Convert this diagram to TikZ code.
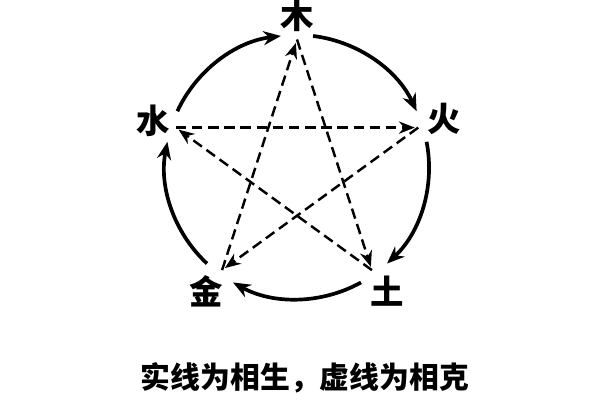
\documentclass[tikz,border=0pt]{standalone}
\usepackage{fontspec}
\newfontfamily\cjk{Noto Sans CJK SC}
\usepackage{tikz}
\tikzset{>=stealth}
\usetikzlibrary{arrows.meta}

\begin{document}
\begin{tikzpicture}[
    elem/.style={font=\cjk\bfseries\fontsize{19}{19}\selectfont, inner sep=0pt},
    sheng/.style={line width=2.1pt, -{Stealth[length=10pt,width=8pt]}},
    ke/.style={line width=1.4pt, dash pattern=on 6pt off 3.2pt, -{Stealth[length=9pt,width=7pt]}, shorten >=2pt}
]
    \useasboundingbox (-5.94,-4.66) rectangle (6.06,3.34);
    % the five elements
    \node[elem] (mu) at (90:3.02) {木};
    \node[elem] (huo) at (18:3.1) {火};
    \node[elem] (tu) at (-54:3.08) {土};
    \node[elem] (jin) at (-126:3.08) {金};
    \node[elem] (shui) at (162:3.02) {水};
    % generating cycle
    \foreach \name/\ang in {mu/90, huo/18, tu/-54, jin/-126, shui/162}{
        \coordinate (\name-p) at (\ang:2.55);
        \coordinate (\name-s) at ({\ang-7}:2.64);
        \draw[sheng] (\name-s) arc[start angle=\ang-7, end angle=\ang-65, radius=2.64];
    }
    % overcoming cycle
    \draw[ke] (mu-p) -- (tu-p);
    \draw[ke] (tu-p) -- (shui-p);
    \draw[ke] (shui-p) -- (huo-p);
    \draw[ke] (huo-p) -- (jin-p);
    \draw[ke] (jin-p) -- (mu-p);
    \node[font=\cjk\bfseries\fontsize{17}{17}\selectfont] (caption) at (0.16,-4.22) {实线为相生，虚线为相克};
\end{tikzpicture}
\end{document}
